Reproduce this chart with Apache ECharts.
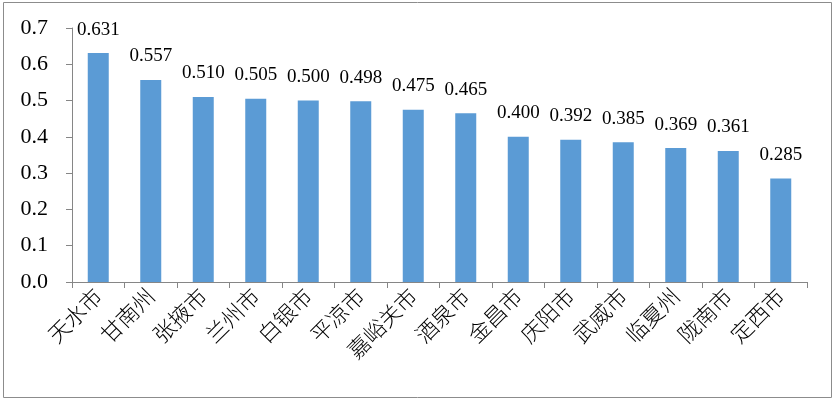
<!DOCTYPE html>
<html><head><meta charset="utf-8">
<script src="https://cdn.jsdelivr.net/npm/echarts@6/dist/echarts.min.js"></script>
<style>html,body{margin:0;padding:0;background:#fff}#c{width:835px;height:402px}</style>
</head><body><div id="c"></div>
<script>
const categories = ['天水市','甘南州','张掖市','兰州市','白银市','平凉市','嘉峪关市','酒泉市','金昌市','庆阳市','武威市','临夏州','陇南市','定西市'];
const values = [0.631,0.557,0.510,0.505,0.500,0.498,0.475,0.465,0.400,0.392,0.385,0.369,0.361,0.285];
const yTicks = [0,0.1,0.2,0.3,0.4,0.5,0.6,0.7];
const chart = echarts.init(document.getElementById('c'), null, {renderer:'canvas'});
chart.setOption({
  animation:false,
  backgroundColor:'#fff',
  graphic:[{type:'rect',shape:{x:3.5,y:2.5,width:828,height:395},style:{fill:'none',stroke:'#8c8c8c',lineWidth:1},silent:true}],
  grid:{left:72,right:28,top:28,bottom:120},
  xAxis:{type:'category',data:categories,
    axisLine:{lineStyle:{color:'#868686'}},
    axisTick:{show:true,alignWithLabel:false,length:6,lineStyle:{color:'#868686'}},
    axisLabel:{rotate:45,interval:0,color:'#000',fontSize:22,fontWeight:300,fontFamily:'"Noto Sans CJK SC"',margin:10}},
  yAxis:{type:'value',min:0,max:0.7,interval:0.1,
    axisLine:{show:true,lineStyle:{color:'#868686'}},
    axisTick:{show:true,length:6,lineStyle:{color:'#868686'}},
    splitLine:{show:false},
    axisLabel:{color:'#000',fontSize:22,fontFamily:'"Liberation Serif"',margin:24,formatter:v=>v.toFixed(1)}},
  series:[{type:'bar',data:values,barWidth:21,itemStyle:{color:'#5B9BD5'},
    label:{show:true,position:'top',distance:14,color:'#000',fontSize:19,fontFamily:'"Liberation Serif"',formatter:p=>p.value.toFixed(3)}}]
});
</script></body></html>
